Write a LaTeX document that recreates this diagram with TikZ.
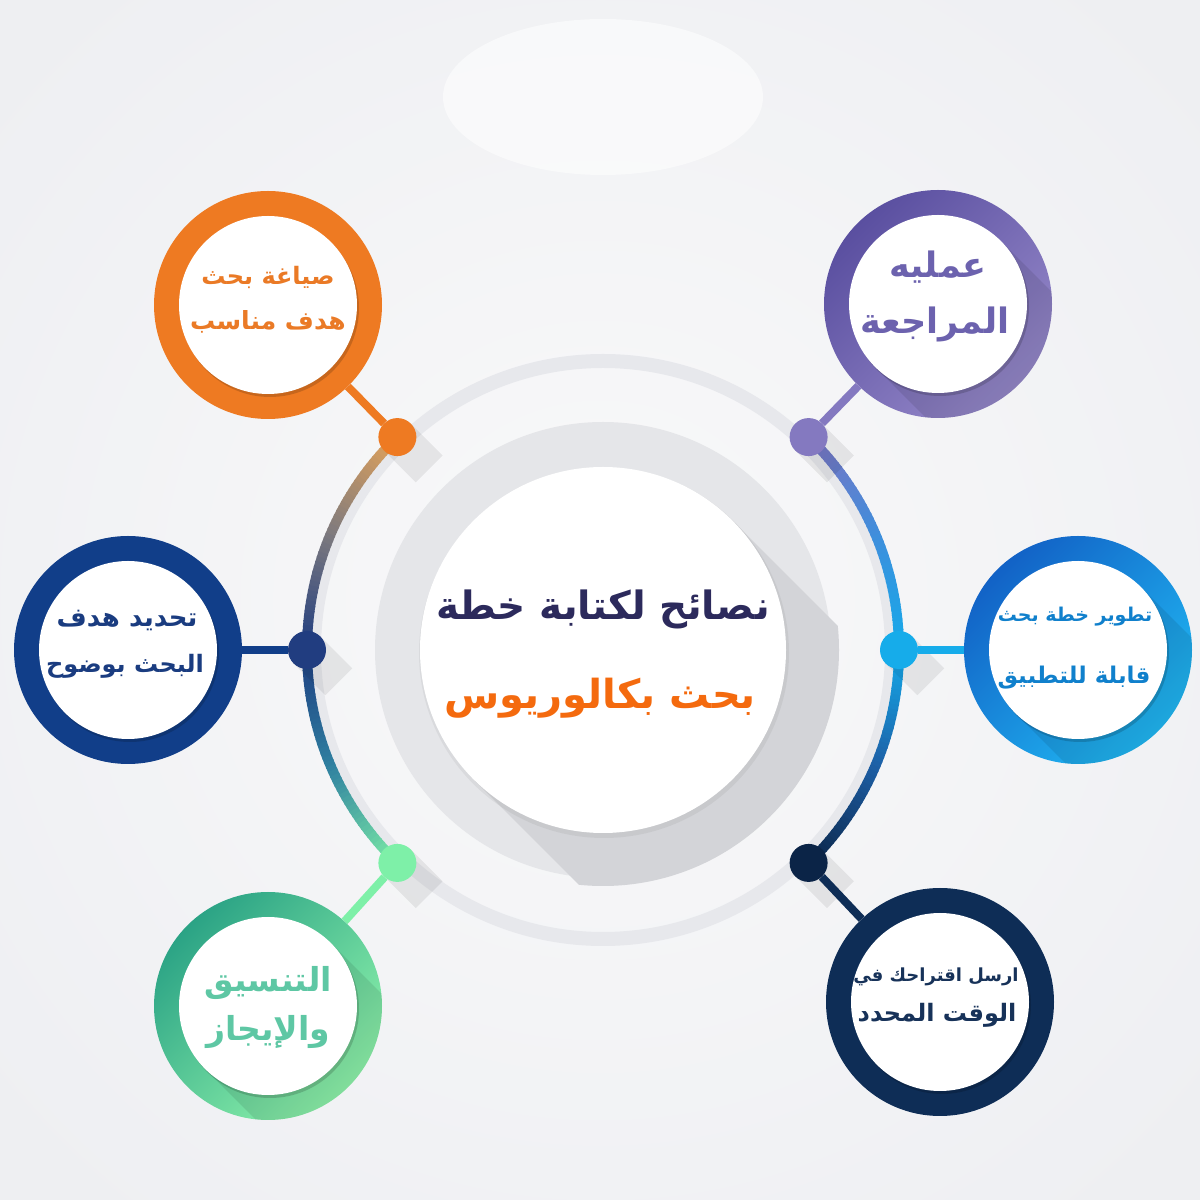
\documentclass[tikz,border=0pt]{standalone}
\usepackage{fontspec}
\newfontfamily\arabicfont[Script=Arabic]{DejaVu Sans}
\TeXXeTstate=1
\usetikzlibrary{calc}
\definecolor{bgA}{HTML}{F9F9FA}
\definecolor{bgB}{HTML}{EEEFF2}
\definecolor{paleRing}{HTML}{E7E8EC}
\definecolor{grayDisc}{HTML}{E5E6E9}
\definecolor{shadowC}{HTML}{D3D4D8}
\definecolor{cOrange}{HTML}{EE7A22}
\definecolor{cPurpleA}{HTML}{5A4FA0}
\definecolor{cPurpleB}{HTML}{9588C9}
\definecolor{cNavyL}{HTML}{113E89}
\definecolor{cBlueA}{HTML}{1262C6}
\definecolor{cBlueB}{HTML}{20B8F3}
\definecolor{cGreenA}{HTML}{2BA385}
\definecolor{cGreenB}{HTML}{8EF3AB}
\definecolor{cNavyR}{HTML}{0E2D56}
\definecolor{tOrange}{HTML}{EA7A26}
\definecolor{tPurple}{HTML}{6C62AE}
\definecolor{tNavyL}{HTML}{1A3C80}
\definecolor{tBlue}{HTML}{1080CC}
\definecolor{tGreen}{HTML}{5EC7A4}
\definecolor{tNavyR}{HTML}{173259}
\definecolor{titleA}{HTML}{2C2A5C}
\definecolor{titleB}{HTML}{F46A0E}
\definecolor{dOrange}{HTML}{EE7A22}
\definecolor{dNavy}{HTML}{213D80}
\definecolor{dGreen}{HTML}{7EF0A8}
\definecolor{dPurple}{HTML}{8479C0}
\definecolor{dBlue}{HTML}{16ACEA}
\definecolor{dNavyR}{HTML}{0B2447}
\definecolor{aA}{HTML}{E3A35A}
\definecolor{aB}{HTML}{7E7A7E}
\definecolor{aC}{HTML}{1E3C80}
\definecolor{aD}{HTML}{2F7FA0}
\definecolor{aE}{HTML}{7BEBA6}
\definecolor{bA}{HTML}{0B2447}
\definecolor{bB}{HTML}{1D5FA5}
\definecolor{bC}{HTML}{15AAEA}
\definecolor{bD}{HTML}{3F8EDC}
\definecolor{bE}{HTML}{7D74C2}
\newcommand\gradarc[4]{%
  \foreach \i in {0,...,23}{%
    \pgfmathsetmacro\aa{#1+(#2-#1)*\i/24}%
    \pgfmathsetmacro\bb{#1+(#2-#1)*(\i+1.3)/24}%
    \pgfmathtruncatemacro\pp{100-100*(\i+0.5)/24}%
    \draw[hubline, draw=#3!\pp!#4] ($(C)+(\aa:296)$) arc[start angle=\aa, end angle=\bb, radius=296];
  }}
\newcommand\dshadow[1]{%
  \fill[black, opacity=0.07] ($(C)+(#1:296)+(45:19)$) -- ++(-45:45) -- ++(225:38) -- ($(C)+(#1:296)+(225:19)$) -- cycle;}
\newcommand\innershadow[1]{%
  \fill[black, opacity=0.16] ($(#1)+(2,-3)$) circle (89);}
\newcommand\ringshadow[1]{%
  \begin{scope}
    \clip (#1) circle (114);
    \fill[black, opacity=0.09] ($(#1)+(45:89)$) -- ++(-45:120) -- ++(225:178) -- ($(#1)+(225:89)$) -- cycle;
  \end{scope}}
\newcommand\fs[1]{\fontsize{#1}{#1}\selectfont}
\begin{document}
\begin{tikzpicture}[x=1pt,y=1pt,
  hubline/.style={line width=10, line cap=butt},
  dotnode/.style={circle, minimum size=38, inner sep=0},
  ringnode/.style={circle, minimum size=228, inner sep=0},
  whitenode/.style={circle, fill=white, minimum size=178, inner sep=0},
  conn/.style={line width=8},
  ar/.style={font=\arabicfont\bfseries, inner sep=0}]
\useasboundingbox (0,0) rectangle (1200,1200);
\shade[inner color=bgA, outer color=bgB] (-200,-200) rectangle (1400,1400);
\fill[white, opacity=0.55] (603,1103) ellipse [x radius=160, y radius=78];
\coordinate (C) at (603,550);
% rings around the hub
\draw[paleRing, line width=14] (C) circle (289);
\fill[grayDisc] (C) circle (228);
\begin{scope}
  \clip (C) circle (236);
  \fill[shadowC] ($(C)+(45:183)$) -- ++(-45:300) -- ($(C)+(225:183)+(-45:300)$) -- ($(C)+(225:183)$) -- cycle;
\end{scope}
\fill[black, opacity=0.05] ($(C)+(1,-3)$) circle (185);
\node[circle, fill=white, minimum size=366, inner sep=0] (hub) at (C) {};
\node[ar, text=titleA, font=\arabicfont\bfseries\fs{39}] (titleA) at (603,591) {\beginR نصائح لكتابة خطة\endR};
\node[ar, text=titleB, font=\arabicfont\bfseries\fs{40}] (titleB) at (600,502) {\beginR بحث بكالوريوس\endR};
% coloured arcs
\gradarc{134}{157}{aA}{aB}
\gradarc{157}{180}{aB}{aC}
\gradarc{180}{203}{aC}{aD}
\gradarc{203}{226}{aD}{aE}
\gradarc{-46}{-23}{bA}{bB}
\gradarc{-23}{0}{bB}{bC}
\gradarc{0}{23}{bC}{bD}
\gradarc{23}{46}{bD}{bE}
% dot shadows
\dshadow{134}\dshadow{180}\dshadow{226}\dshadow{46}\dshadow{0}\dshadow{-46}
% dots
\node[dotnode, fill=dOrange] (d1) at ($(C)+(134:296)$) {};
\node[dotnode, fill=dNavy] (d2) at ($(C)+(180:296)$) {};
\node[dotnode, fill=dGreen] (d3) at ($(C)+(226:296)$) {};
\node[dotnode, fill=dPurple] (d4) at ($(C)+(46:296)$) {};
\node[dotnode, fill=dBlue] (d5) at ($(C)+(0:296)$) {};
\node[dotnode, fill=dNavyR] (d6) at ($(C)+(-46:296)$) {};
% outer rings
\node[ringnode, fill=cOrange] (r1) at (268,895) {};
\node[ringnode, fill=cNavyL] (r2) at (128,550) {};
\node[ringnode, top color=cGreenA, bottom color=cGreenB, shading angle=45] (r3) at (268,194) {};
\node[ringnode, top color=cPurpleA, bottom color=cPurpleB, shading angle=45] (r4) at (938,896) {};
\node[ringnode, top color=cBlueA, bottom color=cBlueB, shading angle=45] (r5) at (1078,550) {};
\node[ringnode, fill=cNavyR] (r6) at (940,198) {};
\ringshadow{r3}\ringshadow{r4}\ringshadow{r5}
% connectors
\draw[conn, draw=dOrange] (d1) -- (r1);
\draw[conn, draw=cNavyL] (d2) -- (r2);
\draw[conn, draw=dGreen] (d3) -- (r3);
\draw[conn, draw=dPurple] (d4) -- (r4);
\draw[conn, draw=dBlue] (d5) -- (r5);
\draw[conn, draw=cNavyR] (d6) -- (r6);
% inner white discs
\innershadow{r1}\innershadow{r2}\innershadow{r3}\innershadow{r4}\innershadow{r5}\innershadow{r6}
\node[whitenode] (w1) at (r1) {};
\node[whitenode] (w2) at (r2) {};
\node[whitenode] (w3) at (r3) {};
\node[whitenode] (w4) at (r4) {};
\node[whitenode] (w5) at (r5) {};
\node[whitenode] (w6) at (r6) {};
% texts
\node[ar, text=tOrange, font=\arabicfont\bfseries\fs{24}] (t1a) at (268,923) {\beginR صياغة بحث\endR};
\node[ar, text=tOrange, font=\arabicfont\bfseries\fs{25}] (t1b) at (268,878) {\beginR هدف مناسب\endR};
\node[ar, text=tPurple, font=\arabicfont\bfseries\fs{35}] (t4a) at (938,933) {\beginR عمليه\endR};
\node[ar, text=tPurple, font=\arabicfont\bfseries\fs{35}] (t4b) at (935,876) {\beginR المراجعة\endR};
\node[ar, text=tNavyL, font=\arabicfont\bfseries\fs{26}] (t2a) at (127,579) {\beginR تحديد هدف\endR};
\node[ar, text=tNavyL, font=\arabicfont\bfseries\fs{24}] (t2b) at (125,534) {\beginR البحث بوضوح\endR};
\node[ar, text=tBlue, font=\arabicfont\bfseries\fs{19}] (t5a) at (1075,583) {\beginR تطوير خطة بحث\endR};
\node[ar, text=tBlue, font=\arabicfont\bfseries\fs{23}] (t5b) at (1074,522) {\beginR قابلة للتطبيق\endR};
\node[ar, text=tGreen, font=\arabicfont\bfseries\fs{33}] (t3a) at (268,217) {\beginR التنسيق\endR};
\node[ar, text=tGreen, font=\arabicfont\bfseries\fs{33}] (t3b) at (268,168) {\beginR والإيجاز\endR};
\node[ar, text=tNavyR, font=\arabicfont\bfseries\fs{18}] (t6a) at (936,223) {\beginR ارسل اقتراحك في\endR};
\node[ar, text=tNavyR, font=\arabicfont\bfseries\fs{24}] (t6b) at (937,185) {\beginR الوقت المحدد\endR};
\end{tikzpicture}
\end{document}
